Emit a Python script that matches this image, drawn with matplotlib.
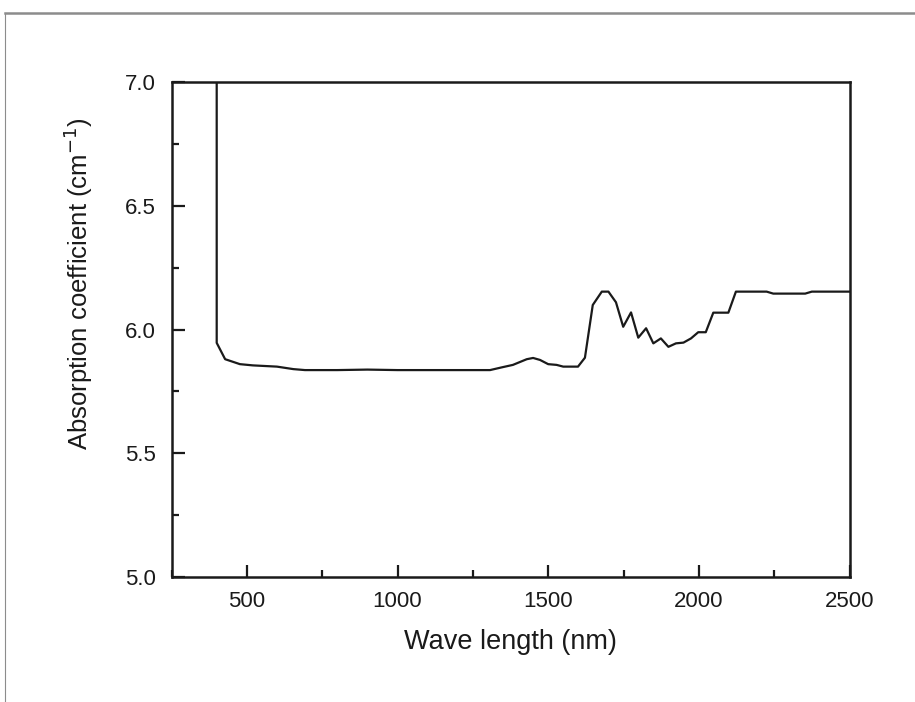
import matplotlib
matplotlib.use("Agg")
import matplotlib.pyplot as plt
from matplotlib.lines import Line2D
from matplotlib.ticker import MultipleLocator

plt.rcParams['font.family'] = ['Liberation Sans', 'DejaVu Sans']

# wavelength (nm) and absorption coefficient (cm^-1)
wavelength = [400, 400, 428, 477, 520, 600, 654, 693, 800, 900, 1000, 1200,
              1307, 1346, 1383, 1429, 1450, 1473, 1500, 1528, 1550, 1599,
              1622, 1648, 1678, 1700, 1725, 1749, 1775, 1799, 1825, 1849,
              1874, 1899, 1924, 1949, 1974, 1998, 2023, 2048, 2098, 2123,
              2225, 2247, 2353, 2375, 2500]
absorption = [7.3, 5.946, 5.880, 5.860, 5.855, 5.850, 5.840, 5.836, 5.836, 5.838,
              5.836, 5.836, 5.836, 5.847, 5.857, 5.880, 5.885, 5.877, 5.860,
              5.857, 5.850, 5.850, 5.886, 6.099, 6.153, 6.153, 6.110, 6.011,
              6.069, 5.967, 6.005, 5.944, 5.964, 5.930, 5.944, 5.947, 5.964,
              5.989, 5.989, 6.068, 6.068, 6.153, 6.153, 6.145, 6.145, 6.153,
              6.153]

fig = plt.figure(figsize=(9.15, 7.02), dpi=100)
ax = fig.add_axes([171.5 / 915, 1 - 577 / 702, 678 / 915, 495 / 702])

ax.plot(wavelength, absorption, color='#1a1a1a', linewidth=1.6)

ax.set_xlim(250, 2500)
ax.set_ylim(5.0, 7.0)
ax.xaxis.set_major_locator(MultipleLocator(500))
ax.xaxis.set_minor_locator(MultipleLocator(250))
ax.yaxis.set_major_locator(MultipleLocator(0.5))
ax.yaxis.set_minor_locator(MultipleLocator(0.25))
ax.yaxis.set_major_formatter(matplotlib.ticker.FormatStrFormatter('%.1f'))

ax.tick_params(which='both', direction='in', top=False, right=False,
               width=1.6, colors='#1a1a1a', labelsize=16)
ax.tick_params(axis='x', pad=10)
ax.tick_params(axis='y', pad=11)
ax.tick_params(which='major', length=9)
ax.tick_params(which='minor', length=5)
for s in ax.spines.values():
    s.set_linewidth(1.8)
    s.set_color('#1a1a1a')

ax.set_xlabel('Wave length (nm)', fontsize=19.5, labelpad=12, color='#1a1a1a')
ax.set_ylabel('Absorption coefficient (cm$^{-1}$)', fontsize=18.5,
              color='#1a1a1a')
# label sits above the axes centre in the original
ax.yaxis.set_label_coords(-0.113, 0.592)

# page frame lines
fig.add_artist(Line2D([5 / 915, 1], [1 - 13 / 702, 1 - 13 / 702],
                      color='#8c8c8c', linewidth=1.8, transform=fig.transFigure))
fig.add_artist(Line2D([5 / 915, 5 / 915], [0, 1 - 13 / 702],
                      color='#8c8c8c', linewidth=0.8, transform=fig.transFigure))

fig.savefig('out.png', dpi=100)
